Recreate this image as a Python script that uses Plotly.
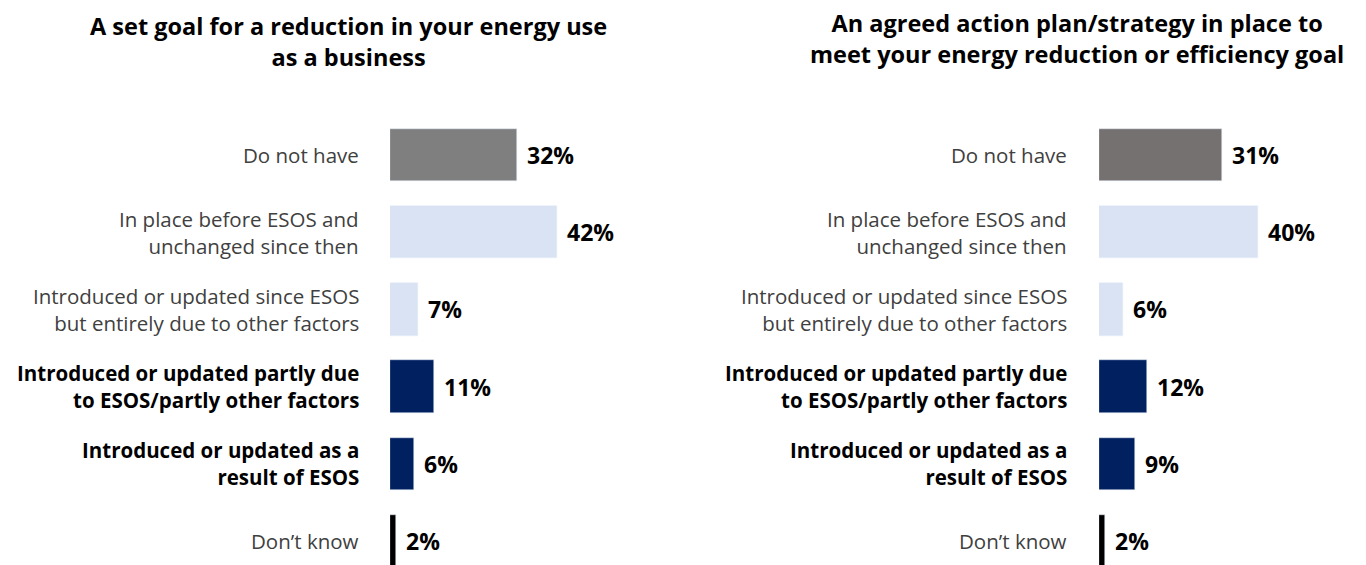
import plotly.graph_objects as go

categories = [
    "Do not have",
    "In place before ESOS and<br>unchanged since then",
    "Introduced or updated since ESOS<br>but entirely due to other factors",
    "Introduced or updated partly due<br>to ESOS/partly other factors",
    "Introduced or updated as a<br>result of ESOS",
    "Don’t know",
]
bold_rows = [False, False, False, True, True, False]

goal_values = [32, 42, 7, 11, 6, 1.6]
goal_labels = ["32%", "42%", "7%", "11%", "6%", "2%"]
plan_values = [31, 40, 6, 12, 9, 1.6]
plan_labels = ["31%", "40%", "6%", "12%", "9%", "2%"]

goal_title = "A set goal for a reduction in your energy use<br>as a business"
plan_title = "An agreed action plan/strategy in place to<br>meet your energy reduction or efficiency goal"

goal_colors = ["#7F7F7F", "#DAE3F3", "#DAE3F3", "#002060", "#002060", "#000000"]
plan_colors = ["#767171", "#DAE3F3", "#DAE3F3", "#002060", "#002060", "#000000"]

PAGE_W, PAGE_H = 1366, 565
OFF = 8  # default body margin of the page
W, H = PAGE_W - OFF, PAGE_H - OFF
FONT = "Open Sans"
ypos = list(range(len(categories)))


def px(xpage):
    return (xpage - OFF) / W


def py(ypage):
    return 1 - (ypage - OFF) / H


fig = go.Figure()
fig.add_trace(go.Bar(x=goal_values, y=ypos, orientation="h", marker_color=goal_colors,
                     width=0.68, xaxis="x", yaxis="y", hoverinfo="skip"))
fig.add_trace(go.Bar(x=plan_values, y=ypos, orientation="h", marker_color=plan_colors,
                     width=0.68, xaxis="x2", yaxis="y2", hoverinfo="skip"))

px_per_pct = 3.97
left_x0, right_x0 = 390, 1099
ann = []
for xref, yref, vals, labs, label_x in [("x", "y", goal_values, goal_labels, 361),
                                        ("x2", "y2", plan_values, plan_labels, 1069)]:
    for i, (cat, v, lab) in enumerate(zip(categories, vals, labs)):
        ann.append(dict(x=v, y=i, xref=xref, yref=yref, text="<b>%s</b>" % lab,
                        showarrow=False, xanchor="left", yanchor="middle", xshift=8,
                        font=dict(family=FONT, size=23, color="#000000")))
        txt = "<b>%s</b>" % cat if bold_rows[i] else cat
        ann.append(dict(x=px(label_x), y=i, xref="paper", yref=yref, text=txt,
                        showarrow=False, xanchor="right", yanchor="middle", align="right",
                        font=dict(family=FONT, size=20.5,
                                  color="#000000" if bold_rows[i] else "#404040")))

ann.append(dict(x=px(348), y=py(41), xref="paper", yref="paper", text="<b>%s</b>" % goal_title,
                showarrow=False, xanchor="center", yanchor="middle", align="center",
                font=dict(family=FONT, size=23.5, color="#000000")))
ann.append(dict(x=px(1077), y=py(39), xref="paper", yref="paper", text="<b>%s</b>" % plan_title,
                showarrow=False, xanchor="center", yanchor="middle", align="center",
                font=dict(family=FONT, size=23.5, color="#000000")))

row_px = 77.2
top_c = 155 - OFF
yr_top = -top_c / row_px
yr_bot = 5 + (PAGE_H - 541) / row_px

fig.update_layout(
    width=W, height=H, margin=dict(l=0, r=0, t=0, b=0),
    paper_bgcolor="white", plot_bgcolor="white", showlegend=False,
    annotations=ann, bargap=0,
    xaxis=dict(domain=[px(left_x0), px(683)], range=[0, (683 - left_x0) / px_per_pct],
               visible=False, fixedrange=True),
    xaxis2=dict(domain=[px(right_x0), 1.0], range=[0, (PAGE_W - right_x0) / px_per_pct],
                visible=False, fixedrange=True),
    yaxis=dict(range=[yr_bot, yr_top], visible=False, anchor="x"),
    yaxis2=dict(range=[yr_bot, yr_top], visible=False, anchor="x2"),
)

fig.write_html("out.html")
